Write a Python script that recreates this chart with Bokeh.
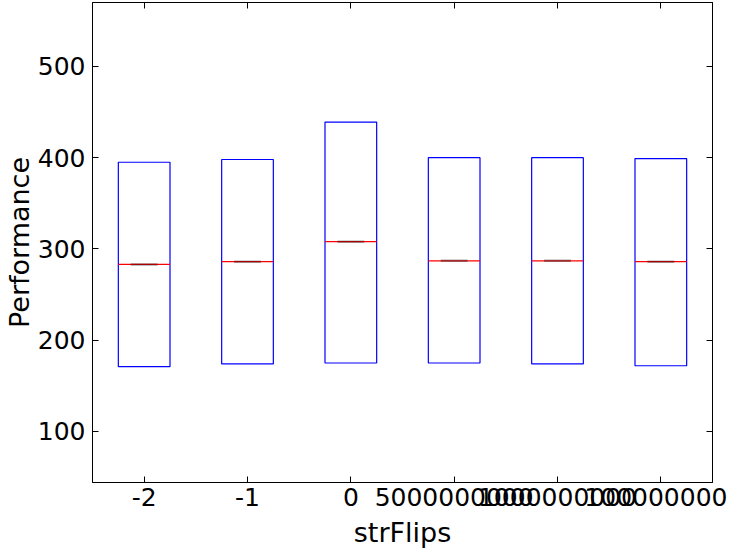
from bokeh.plotting import figure
from bokeh.models import LinearAxis, FixedTicker, Range1d, CustomJSTickFormatter
from bokeh.embed import file_html
from bokeh.resources import INLINE

# ---- data ----
categories = ["-2", "-1", "0", "5000000000", "1000000000", "100000000"]
positions = [1, 2, 3, 4, 5, 6]
q1 = [171, 174, 175, 175, 174, 172]
q3 = [395, 398, 439, 400, 400, 399]
medians = [283, 286, 308, 287, 287, 286]
y_ticks = [100, 200, 300, 400, 500]

box_half = 0.25
cap_half = 0.13

p = figure(frame_width=620, frame_height=480, output_backend="svg", toolbar_location=None,
           x_range=Range1d(0.5, 6.5), y_range=Range1d(44.1, 570.0),
           min_border_left=84, min_border_right=15, min_border_top=2,
           min_border_bottom=60)
p.grid.visible = False
p.outline_line_color = "black"
p.outline_line_width = 1
p.background_fill_color = "white"
p.border_fill_color = "white"

FONT = "DejaVu Sans"

def style_axis(ax):
    ax.axis_line_color = "black"
    ax.major_tick_in = 6
    ax.major_tick_out = 0
    ax.minor_tick_in = 0
    ax.minor_tick_out = 0
    ax.major_tick_line_color = "black"
    ax.major_label_text_font = FONT
    ax.major_label_text_font_size = "25px"
    ax.major_label_text_color = "black"
    ax.major_label_standoff = 7
    ax.axis_label_text_font = FONT
    ax.axis_label_text_font_size = "27px"
    ax.axis_label_text_font_style = "normal"
    ax.axis_label_text_color = "black"

xt = FixedTicker(ticks=positions)
yt = FixedTicker(ticks=y_ticks)

p.xaxis.ticker = xt
p.yaxis.ticker = yt
p.xaxis.major_label_overrides = {pos: lab for pos, lab in zip(positions, categories)}
p.xaxis.axis_label = "strFlips"
p.yaxis.axis_label = "Performance"
style_axis(p.xaxis[0])
style_axis(p.yaxis[0])
p.xaxis.major_label_standoff = 5
p.xaxis.axis_label_standoff = 8
p.yaxis.axis_label_standoff = 0

blank = CustomJSTickFormatter(code="return '';")
top_ax = LinearAxis(ticker=xt, formatter=blank)
right_ax = LinearAxis(ticker=yt, formatter=blank)
for ax in (top_ax, right_ax):
    style_axis(ax)
    ax.major_label_standoff = 0
p.add_layout(top_ax, "above")
p.add_layout(right_ax, "right")

lefts = [x - box_half for x in positions]
rights = [x + box_half for x in positions]
p.quad(left=lefts, right=rights, bottom=q1, top=q3,
       fill_color=None, line_color="blue", line_width=1.2)

p.segment(x0=lefts, x1=rights, y0=medians, y1=medians,
          line_color="red", line_width=1.3)
p.segment(x0=[x - cap_half for x in positions], x1=[x + cap_half for x in positions],
          y0=medians, y1=medians, line_color="black", line_alpha=0.35, line_width=2.5)

open("out.html", "w").write(file_html(p, INLINE))
